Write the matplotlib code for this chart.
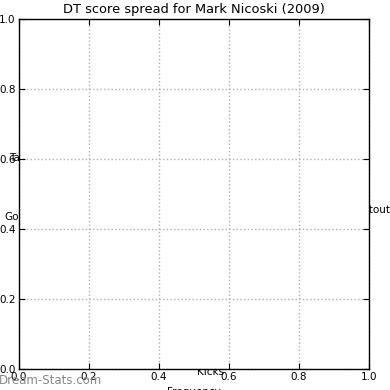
import matplotlib
matplotlib.use("Agg")
import matplotlib.pyplot as plt

# Labels of the (empty) score spread, partly hidden behind the axes
categories = ["Tackles", "Goals", "Hitouts", "Kicks"]
title = "DT score spread for Mark Nicoski (2009)"
ticks = [0.0, 0.2, 0.4, 0.6, 0.8, 1.0]

plt.rcParams["font.family"] = "DejaVu Sans"
plt.rcParams["font.size"] = 7.5

fig = plt.figure(figsize=(3.9, 3.9), dpi=100)
fig.patch.set_facecolor("white")
ax = fig.add_axes([19 / 390, 21 / 390, 350 / 390, 350 / 390])
ax.set_xlim(0, 1)
ax.set_ylim(0, 1)
ax.set_xticks(ticks)
ax.set_yticks(ticks)
ax.tick_params(direction="in", top=True, right=True, length=4, labelsize=7.5, pad=2.5)
ax.grid(True, linestyle=":", color="#b0b0b0", linewidth=1)
ax.set_title(title, fontsize=9.4, pad=4)
ax.set_xlabel("Frequency", fontsize=7.5, labelpad=3)
for s in ax.spines.values():
    s.set_linewidth(1)

# category labels: drawn below the axes so the white patch hides part of them
pos = {"Tackles": (9, 158, "left"), "Goals": (4, 217, "left"),
       "Hitouts": (395.5, 210, "right"), "Kicks": (211, 372, "center")}
for c in categories:
    x, y, ha = pos[c]
    fig.text(x / 390, 1 - y / 390, c, ha=ha, va="center", fontsize=7.5, zorder=-1)

fig.text(-1 / 390, 1 - 380 / 390, "Dream-Stats.com", color="#888888", fontsize=8.5,
         ha="left", va="center", zorder=5)

fig.savefig("out.png", dpi=100)
